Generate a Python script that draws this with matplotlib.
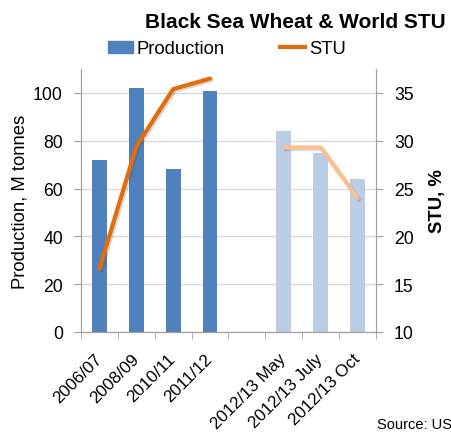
import matplotlib
matplotlib.use("Agg")
import matplotlib.pyplot as plt
import matplotlib.patheffects as pe
from matplotlib.lines import Line2D
from matplotlib.patches import Patch
import numpy as np

plt.rcParams['font.family'] = ['Liberation Sans', 'DejaVu Sans']

# seasons (a blank slot separates history from the 2012/13 estimates)
hist_seasons = ['2006/07', '2008/09', '2010/11', '2011/12']
fc_seasons = ['2012/13 May', '2012/13 July', '2012/13 Oct']
hist_prod = [72, 102, 68, 101]      # M tonnes
fc_prod = [84, 75, 64]
hist_stu = [16.6, 29.4, 35.4, 36.5]  # %
fc_stu = [29.3, 29.3, 24.0]

labels = hist_seasons + [''] + fc_seasons
x_hist = np.arange(len(hist_seasons))
x_fc = np.arange(len(fc_seasons)) + len(hist_seasons) + 1

fig = plt.figure(figsize=(4.51, 4.35), dpi=100)
ax = fig.add_axes([81 / 451, 1 - 333 / 435, 295 / 451, 263 / 435])
ax2 = ax.twinx()

dark_blue, light_blue = '#4F81BD', '#B9CDE5'
dark_or, light_or = '#E46C0A', '#FAC090'
spine_c = '#A0A0A0'

ax.bar(x_hist, hist_prod, width=0.4, color=dark_blue, zorder=2)
ax.bar(x_fc, fc_prod, width=0.4, color=light_blue, zorder=2)

shadow = [pe.SimpleLineShadow(offset=(1.2, -1.2), alpha=0.2, shadow_color='#404040'), pe.Normal()]
ax2.plot(x_hist, hist_stu, color=dark_or, lw=3, solid_capstyle='round',
         path_effects=shadow)
ax2.plot(x_fc, fc_stu, color=light_or, lw=3, solid_capstyle='round',
         path_effects=shadow)

ax.set_xlim(-0.5, 7.5)
ax.set_ylim(0, 110)
ax.set_yticks(range(0, 101, 20))
ax2.set_ylim(10, 37.5)
ax2.set_yticks(range(10, 36, 5))

ax.set_axisbelow(True)
ax.yaxis.grid(True, color='#D9D9D9', lw=1)

ax.set_xticks(np.arange(len(labels)))
ax.set_xticklabels(labels, rotation=45, ha='right', rotation_mode='anchor',
                   va='center', fontsize=12.3)
ax.set_xticks(np.arange(-0.5, 8, 1), minor=True)
ax.tick_params(axis='x', which='major', length=0, pad=17)
ax.tick_params(axis='x', which='minor', length=5, color=spine_c)
ax.tick_params(axis='y', length=5, color=spine_c, labelsize=12.7, pad=8)
ax2.tick_params(axis='y', length=5, color=spine_c, labelsize=12.7, pad=8)

for a in (ax, ax2):
    a.spines['top'].set_visible(False)
    for s in ('left', 'right', 'bottom'):
        a.spines[s].set_color(spine_c)

ax.set_ylabel('Production, M tonnes', fontsize=13.3, va='center')
ax.yaxis.set_label_coords(-0.208, 0.5)
ax2.set_ylabel('STU, %', fontsize=13.3, fontweight='bold', va='center')
ax2.yaxis.set_label_coords(1.207, 0.5)

fig.text(446 / 451, 1 - 22 / 435, 'Black Sea Wheat & World STU',
         ha='right', va='center', fontsize=15, fontweight='bold')

handles = [Patch(color=dark_blue), Line2D([], [], color=dark_or, lw=3)]
fig.legend(handles, ['Production', 'STU'], ncol=2, frameon=False,
           loc='center left', bbox_to_anchor=(108 / 451, 1 - 50 / 435),
           fontsize=13.3, handlelength=1.35, handleheight=0.55,
           handletextpad=0.2, columnspacing=3.0, borderpad=0,
           borderaxespad=0)

fig.text(377 / 451, 1 - 425 / 435, 'Source: US', fontsize=10.5,
         ha='left', va='center')

fig.savefig('out.png', dpi=100)
